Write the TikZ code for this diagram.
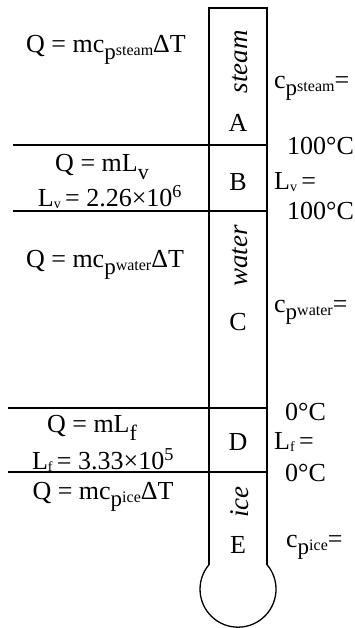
\documentclass[tikz,border=0pt]{standalone}
\usepackage{fontspec}
\setmainfont{Liberation Serif}
\newcommand\bigsub[2]{#1\raisebox{-0.28em}{\fontsize{22}{22}\selectfont #2}}
\newcommand\cpsub[1]{c\raisebox{-0.28em}{\fontsize{23}{23}\selectfont p}\raisebox{-0.12em}{\fontsize{16}{16}\selectfont #1}}
\newcommand\tinysub[2]{#1\raisebox{-0.1em}{\fontsize{14}{14}\selectfont #2}}
\begin{document}
\begin{tikzpicture}[x=1pt,y=-1pt,
  lbl/.style={inner sep=0pt,font=\fontsize{26}{29}\selectfont},
  phase/.style={inner sep=0pt,rotate=90,font=\fontsize{27}{30}\selectfont\itshape},
  wall/.style={line width=1.3pt}]
\useasboundingbox (0,0) rectangle (355,628);
% thermometer
\coordinate (tl) at (209,8);
\coordinate (tr) at (267,8);
\coordinate (bl) at (209,564.6);
\coordinate (br) at (267,564.6);
\draw[wall] (bl) -- (tl) -- (tr) -- (br);
\draw[wall] (br) arc[start angle=-40.3,end angle=220.3,radius=38];
% separators
\coordinate (h1a) at (13,145); \coordinate (h1b) at (267,145);
\coordinate (h2a) at (13,211); \coordinate (h2b) at (267,211);
\coordinate (h3a) at (8,408); \coordinate (h3b) at (268,408);
\coordinate (h4a) at (8,472); \coordinate (h4b) at (268,472);
\draw[wall] (h1a) -- (h1b);
\draw[wall] (h2a) -- (h2b);
\draw[wall] (h3a) -- (h3b);
\draw[wall] (h4a) -- (h4b);
% left equations
\node[lbl] (q1) at (106,50) {Q = m\cpsub{steam}ΔT};
\node[lbl] (q2) at (102,167) {Q = m\bigsub{L}{v}};
\node[lbl] (l2) at (110,197) {\tinysub{L}{v}\,= 2.26×10\textsuperscript{6}};
\node[lbl] (q3) at (105,265) {Q = m\cpsub{water}ΔT};
\node[lbl] (q4) at (92,428) {Q = m\bigsub{L}{f}};
\node[lbl] (l4) at (103,460) {\tinysub{L}{f}\,= 3.33×10\textsuperscript{5}};
\node[lbl] (q5) at (103,497) {Q = m\cpsub{ice}ΔT};
% tube labels
\node[phase] (ps) at (240,62) {steam};
\node[lbl] (a) at (238,123) {A};
\node[lbl] (b) at (238,182) {B};
\node[phase] (pw) at (240,256) {water};
\node[lbl] (c) at (238,322) {C};
\node[lbl] (d) at (238,442) {D};
\node[phase] (pi) at (240,502) {ice};
\node[lbl] (e) at (238,545) {E};
% right labels
\node[lbl,anchor=west] (r1) at (274,88) {\cpsub{steam}=};
\node[lbl,anchor=west] (t1) at (287,146) {100°C};
\node[lbl,anchor=west] (r2) at (274,182) {\tinysub{L}{v}\,=};
\node[lbl,anchor=west] (t2) at (287,211) {100°C};
\node[lbl,anchor=west] (r3) at (274,312) {\cpsub{water}=};
\node[lbl,anchor=west] (t3) at (285,412) {0°C};
\node[lbl,anchor=west] (r4) at (274,442) {\tinysub{L}{f}\,=};
\node[lbl,anchor=west] (t4) at (285,473) {0°C};
\node[lbl,anchor=west] (r5) at (286,547) {\cpsub{ice}=};
\end{tikzpicture}
\end{document}
